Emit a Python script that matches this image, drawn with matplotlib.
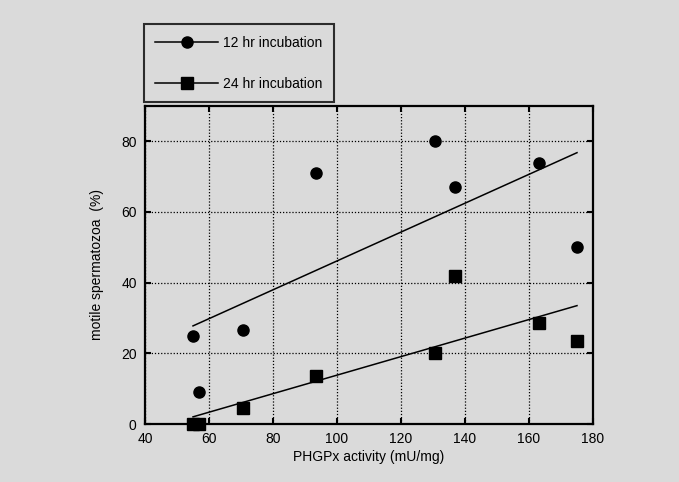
import numpy as np
import matplotlib.pyplot as plt
from matplotlib.lines import Line2D

plt.rcParams['font.family'] = ['Liberation Sans', 'DejaVu Sans']

# PHGPx activity (mU/mg) per sample
activity = [55, 57, 70.5, 93.5, 130.5, 137, 163, 175]
# motile spermatozoa (%)
motile_12h = [25, 9, 26.5, 71, 80, 67, 74, 50]
motile_24h = [0, 0, 4.5, 13.5, 20, 42, 28.5, 23.5]

xticks = [40, 60, 80, 100, 120, 140, 160, 180]
yticks = [0, 20, 40, 60, 80]

bg = '#dadada'
fig = plt.figure(figsize=(6.79, 4.82), dpi=100, facecolor=bg)
ax = fig.add_axes([145/679, 1 - 424/482, 448/679, 318/482], facecolor=bg)

x = np.array(activity)
xfit = np.array([min(activity), max(activity)])
for yv, mk in [(motile_12h, 'o'), (motile_24h, 's')]:
    ax.plot(x, yv, linestyle='none', marker=mk, color='black', markersize=8, clip_on=False, zorder=3)
    k, b = np.polyfit(x, yv, 1)
    ax.plot(xfit, k * xfit + b, color='black', linewidth=1.1, zorder=2)

ax.set_xlim(40, 180)
ax.set_ylim(0, 90)
ax.set_xticks(xticks)
ax.set_yticks(yticks)
ax.grid(True, color='black', linestyle=(0, (1, 1.5)), linewidth=0.9)
ax.tick_params(direction='in', length=4, width=1.5, top=True, right=True,
               labelsize=10, pad=6)
for s in ax.spines.values():
    s.set_linewidth(1.6)
ax.set_xlabel('PHGPx activity (mU/mg)', fontsize=10, labelpad=3)
ax.set_ylabel('motile spermatozoa  (%)', fontsize=10, labelpad=12)

handles = [Line2D([], [], color='black', marker='o', markersize=8, linewidth=1.1),
           Line2D([], [], color='black', marker='s', markersize=8, linewidth=1.1)]
leg = fig.legend(handles, ['12 hr incubation', '24 hr incubation'],
                 loc='lower left', bbox_to_anchor=(144/679, 1 - 102/482),
                 frameon=True, fancybox=False, edgecolor='black', facecolor=bg,
                 fontsize=10, handlelength=4.5, labelspacing=1.95, borderpad=0.82,
                 handletextpad=0.4, borderaxespad=0)
leg.get_frame().set_linewidth(1.5)

fig.savefig('out.png', dpi=100, facecolor=bg)
